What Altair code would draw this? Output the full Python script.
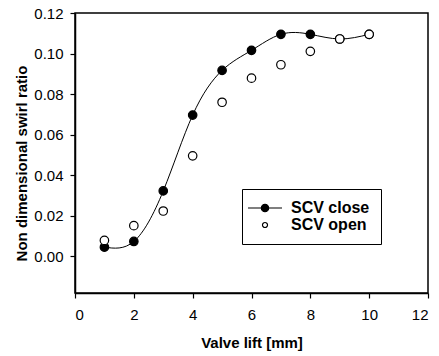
import altair as alt
import pandas as pd

lift = [1, 2, 3, 4, 5, 6, 7, 8, 9, 10]
scv_close = [0.0046, 0.0074, 0.0323, 0.0697, 0.0917, 0.1016, 0.1095, 0.1095, 0.1072, 0.1095]
scv_open = [0.0079, 0.0152, 0.0224, 0.0496, 0.0760, 0.0879, 0.0945, 0.1011, 0.1072, 0.1095]
series_names = ["SCV close", "SCV open"]
x_ticks = [0, 2, 4, 6, 8, 10, 12]
y_ticks = [0.0, 0.02, 0.04, 0.06, 0.08, 0.10, 0.12]

FONT = "Liberation Sans"

line_df = pd.DataFrame({"lift": lift, "ratio": scv_close})
pts_df = pd.concat([
    pd.DataFrame({"lift": lift, "ratio": scv_close, "series": series_names[0]}),
    pd.DataFrame({"lift": lift, "ratio": scv_open, "series": series_names[1]}),
], ignore_index=True)

xscale = alt.Scale(domain=[0, 12], nice=False)
yscale = alt.Scale(domain=[-0.018, 0.12], nice=False, zero=False)

xaxis = alt.Axis(values=x_ticks, title="Valve lift [mm]", grid=False, format="d",
                 titleY=42, titleFontWeight="bold", labelPadding=9)
yaxis = alt.Axis(values=y_ticks, title="Non dimensional swirl ratio", grid=False, format=".2f",
                 titleX=-46, titleY=150, titleFontWeight="bold", labelPadding=7)

line = alt.Chart(line_df).mark_line(interpolate="natural", color="black", strokeWidth=1).encode(
    x=alt.X("lift:Q", scale=xscale, axis=xaxis),
    y=alt.Y("ratio:Q", scale=yscale, axis=yaxis),
)

close_path = "M-4.4,0L-0.95,0M0.95,0L4.4,0M-0.95,0A0.95,0.95 0 1,0 0.95,0A0.95,0.95 0 1,0 -0.95,0Z"
open_path = "M-0.65,0A0.65,0.65 0 1,0 0.65,0A0.65,0.65 0 1,0 -0.65,0Z"

points = alt.Chart(pts_df).mark_point(shape="circle", filled=True, size=72,
                                      stroke="black", strokeWidth=1.2, opacity=1).encode(
    x=alt.X("lift:Q", scale=xscale),
    y=alt.Y("ratio:Q", scale=yscale),
    fill=alt.Fill("series:N",
                  scale=alt.Scale(domain=series_names, range=["black", "white"]),
                  legend=alt.Legend(
                      title=None, orient="none", legendX=167, legendY=176,
                      fillColor="white", strokeColor="black", padding=11,
                      symbolStrokeColor="black", symbolStrokeWidth=1.2, symbolSize=60,
                      symbolType={"expr": "datum.value == 'SCV close' ? '" + close_path + "' : '" + open_path + "'"},
                      symbolOffset=4, labelOffset=18,
                      labelFont=FONT, labelFontSize=16, labelFontWeight="bold", labelColor="black",
                      rowPadding=1,
                  )),
)

chart = alt.layer(line, points).properties(
    width=353, height=280,
    background="white",
    autosize=alt.AutoSizeParams(type="none"),
    padding={"left": 75, "top": 13, "right": 11, "bottom": 63},
).configure_view(
    stroke="black", strokeWidth=1.5
).configure_axis(
    domainColor="black", domainWidth=1.5, tickColor="black", tickWidth=1.2, tickSize=5,
    labelColor="black", labelFont=FONT, labelFontSize=15,
    titleColor="black", titleFont=FONT, titleFontSize=15,
)

chart.save("out.html", embed_options={"renderer": "svg", "actions": False})
